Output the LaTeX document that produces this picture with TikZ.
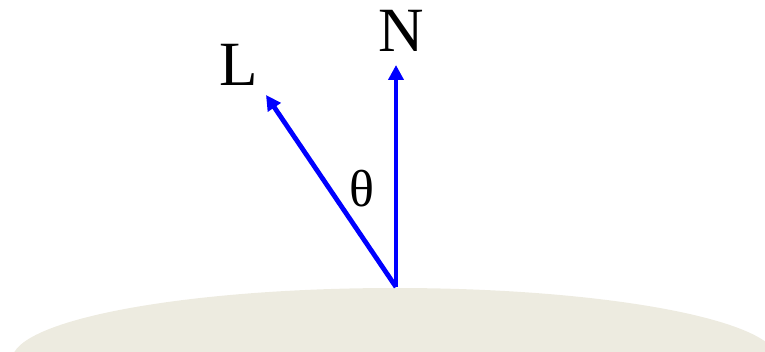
\documentclass[tikz,border=0pt]{standalone}
\usepackage{fontspec}
\setmainfont{Liberation Serif}
\usetikzlibrary{arrows.meta}
\definecolor{ground}{HTML}{EDEBE0}
\definecolor{vecblue}{HTML}{0000FF}
\tikzset{
  vec/.style={draw=vecblue, line width=4.8pt, -{Triangle[length=15pt,width=15pt]}},
  lbl/.style={font=\fontsize{63}{63}\selectfont, inner sep=0pt}
}
\begin{document}
\begin{tikzpicture}[x=1pt,y=-1pt]
\useasboundingbox (0,0) rectangle (765,352);
\begin{scope}
\clip (0,0) rectangle (765,352);
\fill[ground] (395,360) ellipse [x radius=383, y radius=72];
\end{scope}
\coordinate (O) at (396,287);
\coordinate (Ntip) at (396,65);
\coordinate (Ltip) at (266,95);
\draw[vec] (O) -- (Ntip);
\draw[vec] (O) -- (Ltip);
\node[lbl] (N) at (401,31) {N};
\node[lbl] (L) at (239,65) {L};
\node[lbl, font=\fontsize{52}{52}\selectfont] (theta) at (362,189) {θ};
\end{tikzpicture}
\end{document}
